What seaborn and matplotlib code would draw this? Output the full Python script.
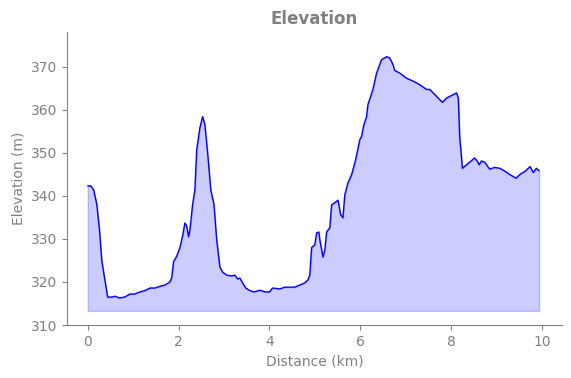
import numpy as np
import pandas as pd
import matplotlib
matplotlib.use("Agg")
import matplotlib.pyplot as plt
import seaborn as sns

sns.set_style("ticks")

# elevation profile
distance_km = [0.0, 0.07, 0.13, 0.18, 0.2, 0.26, 0.31, 0.37, 0.44, 0.53, 0.6, 0.7, 0.81, 0.93,
               1.03, 1.15, 1.26, 1.37, 1.48, 1.59, 1.7, 1.81, 1.85, 1.89, 1.96, 2.03, 2.09,
               2.14, 2.18, 2.22, 2.25, 2.31, 2.36, 2.4, 2.47, 2.53, 2.58, 2.64, 2.71, 2.78,
               2.84, 2.91, 2.97, 3.06, 3.17, 3.24, 3.3, 3.35, 3.41, 3.48, 3.57, 3.66, 3.79,
               3.9, 4.0, 4.07, 4.23, 4.34, 4.45, 4.56, 4.67, 4.78, 4.85, 4.89, 4.93, 5.0,
               5.04, 5.09, 5.11, 5.18, 5.22, 5.26, 5.33, 5.37, 5.44, 5.51, 5.57, 5.62, 5.66,
               5.73, 5.81, 5.9, 5.99, 6.03, 6.08, 6.14, 6.17, 6.28, 6.36, 6.47, 6.58, 6.65,
               6.72, 6.76, 6.87, 7.02, 7.17, 7.31, 7.46, 7.53, 7.68, 7.81, 7.9, 8.05, 8.12,
               8.16, 8.19, 8.25, 8.34, 8.52, 8.58, 8.62, 8.67, 8.74, 8.85, 8.96, 9.07, 9.19,
               9.3, 9.43, 9.52, 9.63, 9.74, 9.81, 9.88, 9.94]
elevation_m = [342.3, 342.3, 341.4, 339.0, 338.0, 332.0, 325.0, 321.0, 316.5, 316.5, 316.7,
               316.3, 316.5, 317.2, 317.2, 317.7, 318.0, 318.6, 318.6, 319.0, 319.3, 320.0,
               321.0, 324.7, 326.0, 328.0, 330.7, 333.7, 333.0, 330.5, 332.0, 338.0, 341.4,
               350.7, 355.8, 358.4, 356.5, 350.0, 341.4, 338.0, 329.8, 323.5, 322.3, 321.6,
               321.4, 321.6, 320.7, 320.9, 319.8, 318.6, 318.0, 317.7, 318.1, 317.7, 317.7,
               318.6, 318.4, 318.8, 318.8, 318.8, 319.3, 319.8, 320.5, 321.6, 328.0, 328.6,
               331.4, 331.6, 329.8, 325.8, 327.4, 331.6, 332.6, 337.9, 338.4, 339.0, 335.6,
               334.9, 340.2, 343.0, 344.9, 348.4, 353.0, 353.8, 356.5, 358.4, 361.2, 364.7,
               368.5, 371.6, 372.3, 372.0, 370.5, 369.1, 368.5, 367.3, 366.6, 365.8, 364.7,
               364.7, 363.1, 361.7, 362.7, 363.5, 363.9, 362.7, 353.8, 346.4, 347.2, 348.8,
               348.0, 347.2, 348.1, 347.8, 346.2, 346.6, 346.4, 345.7, 344.9, 344.1, 345.0,
               345.7, 346.8, 345.4, 346.4, 345.8]

df = pd.DataFrame({"distance": distance_km, "elevation": elevation_m})
base = df["elevation"].min() - 3

grey = "#808080"
fig, ax = plt.subplots(figsize=(5.71, 3.78), dpi=100)
fig.subplots_adjust(left=0.117, right=0.984, top=0.915, bottom=0.14)

ax.fill_between(df["distance"], df["elevation"], base, color="blue", alpha=0.2)
sns.lineplot(data=df, x="distance", y="elevation", color="blue", linewidth=1, ax=ax)

ax.set_xlim(-0.46, 10.44)
ax.set_ylim(310, 378)
ax.set_xticks([0, 2, 4, 6, 8, 10])
ax.set_title("Elevation", color=grey, fontweight="bold", fontsize=12)
ax.set_xlabel("Distance (km)", color=grey)
ax.set_ylabel("Elevation (m)", color=grey)
ax.tick_params(colors=grey, labelcolor=grey)
for s in ["left", "bottom"]:
    ax.spines[s].set_color(grey)
sns.despine(ax=ax)

plt.savefig("out.png", dpi=100)
